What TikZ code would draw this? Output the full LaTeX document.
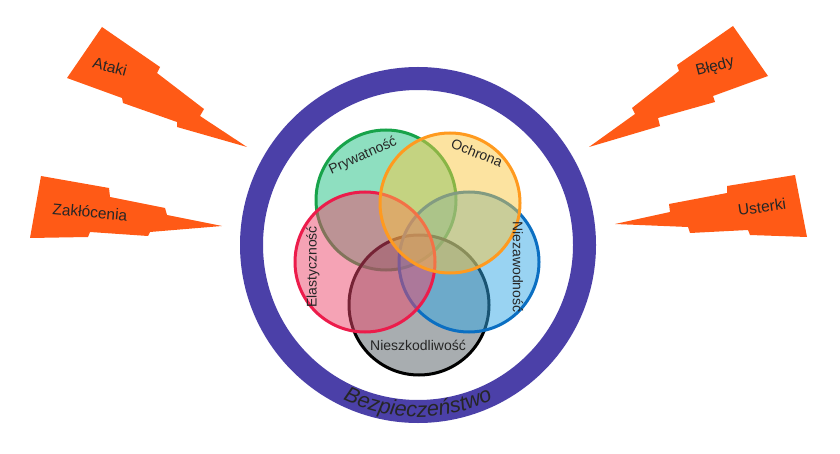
\documentclass[tikz,border=0pt]{standalone}
\usepackage{fontspec}
\setmainfont{Liberation Sans}
\usepackage{tikz}
\usetikzlibrary{positioning,decorations.text}
\definecolor{ringBlue}{HTML}{4B40A8}
\definecolor{boltOrange}{HTML}{FF5A16}
\definecolor{prywGreen}{HTML}{1DBF81}
\definecolor{prywLine}{HTML}{17A34A}
\definecolor{ochrOrange}{HTML}{FAC742}
\definecolor{ochrLine}{HTML}{FF9A1F}
\definecolor{elasRed}{HTML}{EB476B}
\definecolor{elasLine}{HTML}{EC1C4B}
\definecolor{niezBlue}{HTML}{33A8E6}
\definecolor{niezLine}{HTML}{0B6FC2}
\definecolor{nieszGray}{HTML}{525C61}
\newcommand{\vennSize}{140pt}
\newcommand{\ringSize}{333pt}

\begin{document}
\begin{tikzpicture}[x=1pt, y=-1pt,
		bolt/.style={fill=boltOrange, draw=none},
		boltlabel/.style={font=\fontsize{15.5}{18}\selectfont, text=black!85},
		venn/.style={circle, minimum size=\vennSize, inner sep=0pt, line width=3pt, fill opacity=0.5},
		vennlabel/.style={font=\fontsize{14}{16}\selectfont, text=black!85}]
	\useasboundingbox (0,0) rectangle (840,454);

	% outer ring
	\node[circle, draw=ringBlue, line width=23pt, minimum size=\ringSize, inner sep=0pt] (ring) at (418,245) {};
	\path[decorate, decoration={text along path, text align=center, text color=black!85,
			text={|\itshape\fontsize{21.5}{25}\selectfont|Bezpieczeństwo}}]
		(ring.center) ++(130:172) arc[start angle=130, end angle=50, radius=172];

	% threats
	\fill[bolt] (102,27) -- (160,67) -- (157,73) -- (204,109) -- (200,116) -- (247,147)
		-- (177,127) -- (177,122) -- (123,103) -- (122,98) -- (67,78) -- cycle;
	\fill[bolt] (41,176) -- (109,188) -- (110,197) -- (165,208) -- (167,215) -- (222,226)
		-- (150,232) -- (148,236) -- (90,232) -- (88,237) -- (30,238) -- cycle;
	\fill[bolt] (733,26) -- (768,76) -- (713,96) -- (715,102) -- (658,118) -- (660,126)
		-- (589,147) -- (635,114) -- (632,108) -- (679,71) -- (677,65) -- cycle;
	\fill[bolt] (615,224) -- (670,212) -- (669,204) -- (727,193) -- (727,186) -- (795,175)
		-- (807,237) -- (750,235) -- (748,230) -- (690,233) -- (688,227) -- cycle;
	\node[boltlabel, rotate=-15] (ataki) at (110,67) {Ataki};
	\node[boltlabel, rotate=-5] (zaklocenia) at (90,212) {Zakłócenia};
	\node[boltlabel, rotate=15] (bledy) at (715,67) {Błędy};
	\node[boltlabel, rotate=8] (usterki) at (762,207) {Usterki};

	% attributes
	\node[venn, draw=prywLine, fill=prywGreen] (pryw) at (386,200) {};
	\node[venn, draw=black, fill=nieszGray] (niesz) at (419,305) {};
	\node[venn, draw=niezLine, fill=niezBlue] (niez) at (469,262) {};
	\node[venn, draw=elasLine, fill=elasRed] (elas) at (365,262) {};
	\node[venn, draw=ochrLine, fill=ochrOrange] (ochr) at (450,203) {};

	\node[vennlabel, rotate=24] at (363,156) {Prywatność};
	\node[vennlabel, rotate=-22] at (477,153) {Ochrona};
	\node[vennlabel, rotate=90] at (313,267) {Elastyczność};
	\node[vennlabel, rotate=-90] at (518,267) {Niezawodność};
	\node[vennlabel] at (418,345) {Nieszkodliwość};
\end{tikzpicture}
\end{document}
